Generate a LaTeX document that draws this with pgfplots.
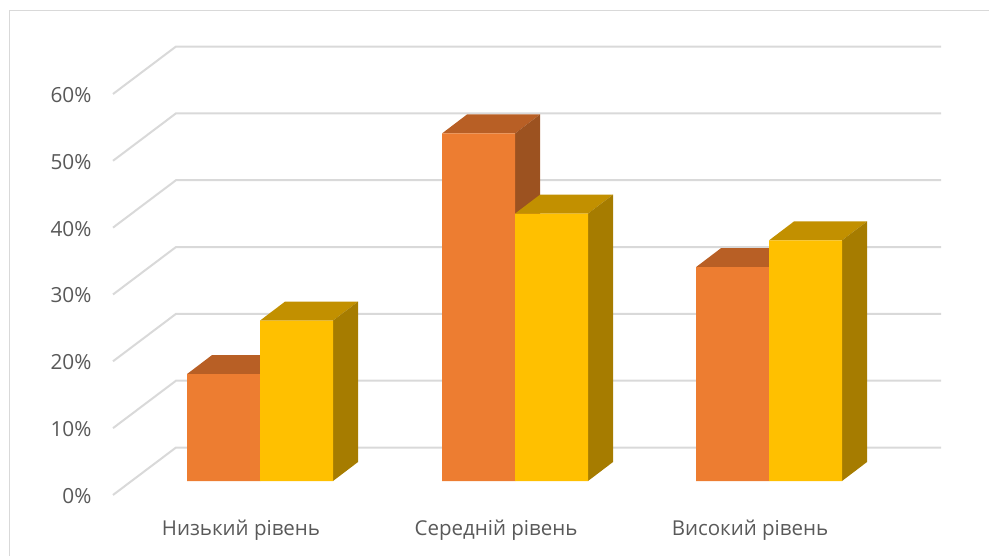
\documentclass[border=0pt]{standalone}
\usepackage{fontspec}
\setmainfont{Open Sans}
\usepackage{pgfplots}
\usepackage{pgfplotstable}
\pgfplotsset{compat=1.18}

\definecolor{txt}{HTML}{595959}
\definecolor{gridc}{HTML}{D9D9D9}
\definecolor{orfront}{HTML}{ED7D31}
\definecolor{ortop}{HTML}{B85F25}
\definecolor{orside}{HTML}{9C5220}
\definecolor{yefront}{HTML}{FFC000}
\definecolor{yetop}{HTML}{C29000}
\definecolor{yeside}{HTML}{A67C00}

% x = group centre in picture units, values in percent
\pgfplotstableread{
x   first second
260 16    24
515 52    40
769 32    36
}\levels

\begin{document}
\begin{tikzpicture}
\begin{axis}[
  scale only axis,
  width=989pt,
  height=556pt,
  xmin=0, xmax=989,
  ymin=-11.22, ymax=71.97,
  axis line style={draw=none},
  tick style={draw=none},
  xtick={260,515,769},
  xticklabels={Низький рівень,Середній рівень,Високий рівень},
  ytick={0,10,20,30,40,50,60},
  yticklabels={0\%,10\%,20\%,30\%,40\%,50\%,60\%},
  xticklabel style={font=\fontsize{20.5}{24}\selectfont,text=txt,xshift=-19pt,yshift=40pt},
  yticklabel style={font=\fontsize{20.8}{24}\selectfont,text=txt,anchor=east,xshift=95pt,yshift=-15pt},
]
% chart border
\addplot[gridc,line width=1pt] coordinates {(9.5,-11.22) (9.5,70.4) (989,70.4)};
% back wall and floor lines
\addplot[gridc,line width=2pt] coordinates {(113,-2.09) (176,5.01) (941,5.01)};
\addplot[gridc,line width=2pt] coordinates {(113,7.91) (176,15.01) (941,15.01)};
\addplot[gridc,line width=2pt] coordinates {(113,17.91) (176,25.01) (941,25.01)};
\addplot[gridc,line width=2pt] coordinates {(113,27.91) (176,35.01) (941,35.01)};
\addplot[gridc,line width=2pt] coordinates {(113,37.91) (176,45.01) (941,45.01)};
\addplot[gridc,line width=2pt] coordinates {(113,47.91) (176,55.01) (941,55.01)};
\addplot[gridc,line width=2pt] coordinates {(113,57.91) (176,65.01) (941,65.01)};

% tops and sides of the bars
\addplot[fill=ortop,draw=none] coordinates {(187,16) (260,16) (285,18.84) (212,18.84)} --cycle;
\addplot[fill=orside,draw=none] coordinates {(260,0) (285,2.84) (285,18.84) (260,16)} --cycle;
\addplot[fill=yetop,draw=none] coordinates {(260,24) (333,24) (358,26.84) (285,26.84)} --cycle;
\addplot[fill=yeside,draw=none] coordinates {(333,0) (358,2.84) (358,26.84) (333,24)} --cycle;

\addplot[fill=ortop,draw=none] coordinates {(442,52) (515,52) (540,54.84) (467,54.84)} --cycle;
\addplot[fill=orside,draw=none] coordinates {(515,0) (540,2.84) (540,54.84) (515,52)} --cycle;
\addplot[fill=yetop,draw=none] coordinates {(515,40) (588,40) (613,42.84) (540,42.84)} --cycle;
\addplot[fill=yeside,draw=none] coordinates {(588,0) (613,2.84) (613,42.84) (588,40)} --cycle;

\addplot[fill=ortop,draw=none] coordinates {(696,32) (769,32) (794,34.84) (721,34.84)} --cycle;
\addplot[fill=orside,draw=none] coordinates {(769,0) (794,2.84) (794,34.84) (769,32)} --cycle;
\addplot[fill=yetop,draw=none] coordinates {(769,36) (842,36) (867,38.84) (794,38.84)} --cycle;
\addplot[fill=yeside,draw=none] coordinates {(842,0) (867,2.84) (867,38.84) (842,36)} --cycle;

% front faces
\addplot[ybar,bar width=73pt,bar shift=-36.5pt,fill=orfront,draw=none] table[x=x,y=first] {\levels};
\addplot[ybar,bar width=73pt,bar shift=36.5pt,fill=yefront,draw=none] table[x=x,y=second] {\levels};
\end{axis}
\end{tikzpicture}
\end{document}
